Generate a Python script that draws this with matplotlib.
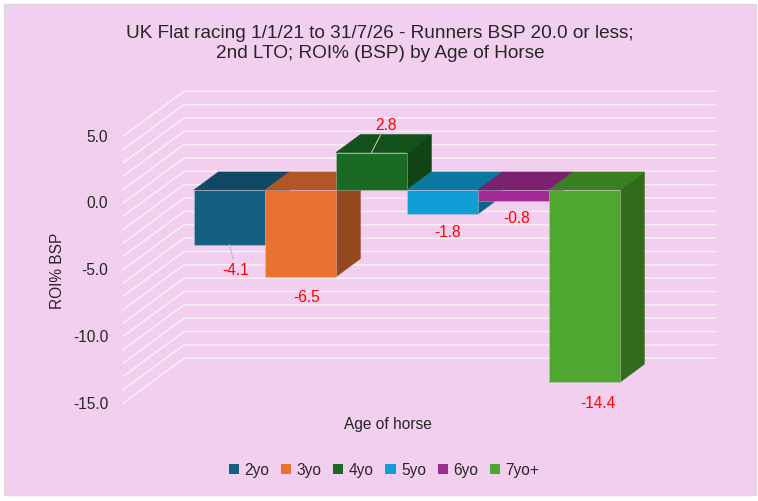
import matplotlib.pyplot as plt
from matplotlib.colors import to_rgb
from matplotlib.patches import Polygon, Rectangle, Patch

plt.rcParams['font.family'] = ['Liberation Sans', 'DejaVu Sans']

# data
ages = ["2yo", "3yo", "4yo", "5yo", "6yo", "7yo+"]
roi = [-4.1, -6.5, 2.8, -1.8, -0.8, -14.4]
colours = ["#156082", "#E97132", "#196B24", "#0F9ED5", "#A02B93", "#4EA72E"]
yticks = [-15, -10, -5, 0, 5]
grid_vals = list(range(-15, 6))

title = ("UK Flat racing 1/1/21 to 31/7/26 - Runners BSP 20.0 or less;\n"
         "2nd LTO; ROI% (BSP) by Age of Horse")

# label nudges in pixels, and which ones get a leader line
label_off = [(6.5, -25), (6.5, -20), (14.5, 28), (5.5, -18), (3.5, -17), (13.5, -20)]
leader = [True, False, True, False, False, False]

W, H = 758, 502
XU, YU = 71.0, 13.35          # pixels per bar width / per 1.0 of ROI
X0, Y0 = 123, 204             # front-left corner of the plot at value 0
DX, DY = 61 / XU, 45 / YU     # full depth of the 3d box, in data units
F0, F1 = 0.29, 0.69           # depth slice the bars occupy
GAP = 0.75
PINK = "#F2CFEE"


def shade(c, k):
    r, g, b = to_rgb(c)
    return (r * k, g * k, b * k)


def off(x, y, f):
    return (x + f * DX, y + f * DY)


fig = plt.figure(figsize=(W / 100, H / 100), dpi=100, facecolor="white")
fig.patches.append(Rectangle((4 / W, 1 - 496 / H), 752 / W, 491 / H,
                             transform=fig.transFigure, facecolor=PINK,
                             edgecolor="#D9D9D9", lw=1, zorder=-5))

ax = fig.add_axes([0, 0, 1, 1])
ax.set_xlim(-X0 / XU, (W - X0) / XU)
ax.set_ylim(-(H - Y0) / YU, Y0 / YU)
ax.axis("off")
ax.patch.set_alpha(0)

n = len(ages)
width = n + 2 * GAP

# back wall + side wall gridlines
for v in grid_vals:
    ax.plot([0, DX, DX + width], [v, v + DY, v + DY], color="#F8F0F6", lw=1.1,
            solid_capstyle="butt", zorder=1)

for t in yticks:
    ax.text(-0.21, t, f"{t:.1f}", ha="right", va="center", fontsize=11.2,
            color="#262626")

# bars, drawn left to right
for i, (v, c) in enumerate(zip(roi, colours)):
    x0 = GAP + i
    x1 = x0 + 1
    top = max(v, 0)
    bot = min(v, 0)
    side = [off(x1, top, F0), off(x1, top, F1), off(x1, bot, F1), off(x1, bot, F0)]
    lid = [off(x0, top, F0), off(x1, top, F0), off(x1, top, F1), off(x0, top, F1)]
    front = [off(x0, bot, F0), off(x1, bot, F0), off(x1, top, F0), off(x0, top, F0)]
    z = 2 + i
    ax.add_patch(Polygon(side, closed=True, facecolor=shade(c, 0.64),
                         edgecolor=shade(c, 0.64), lw=0.4, zorder=z))
    ax.add_patch(Polygon(lid, closed=True, facecolor=shade(c, 0.76),
                         edgecolor=shade(c, 0.76), lw=0.4, zorder=z))
    ax.add_patch(Polygon(front, closed=True, facecolor=c,
                         edgecolor=(0.85, 0.8, 0.85, 0.45), lw=0.6, zorder=z))

    cx = (x0 + x1) / 2 + F0 * DX
    cy = v + F0 * DY
    props = None
    if leader[i]:
        props = dict(arrowstyle="-", color="#BFBFBF", lw=0.8, shrinkA=0, shrinkB=0)
    ax.annotate(f"{v:.1f}", (cx, cy), xytext=label_off[i], textcoords="offset pixels",
                ha="center", va="center", fontsize=11.2, color="#FF0000",
                arrowprops=props, zorder=20)

fig.text(380 / W, 1 - 43.5 / H, title, ha="center", va="center", fontsize=13.7,
         color="#262626", linespacing=1.2)
fig.text(57 / W, 1 - 271 / H, "ROI% BSP", rotation=90, ha="center", va="center",
         fontsize=11.2, color="#262626")
fig.text(388 / W, 1 - 424 / H, "Age of horse", ha="center", va="center",
         fontsize=11.2, color="#262626")

handles = [Patch(facecolor=c, edgecolor="none") for c in colours]
fig.legend(handles, ages, loc="center", bbox_to_anchor=(384 / W, 1 - 471 / H),
           ncol=n, frameon=False, fontsize=11.2, handlelength=0.65, handleheight=0.65,
           handletextpad=0.35, columnspacing=0.75, labelcolor="#262626")

fig.savefig("out.png", dpi=100, facecolor="white")
